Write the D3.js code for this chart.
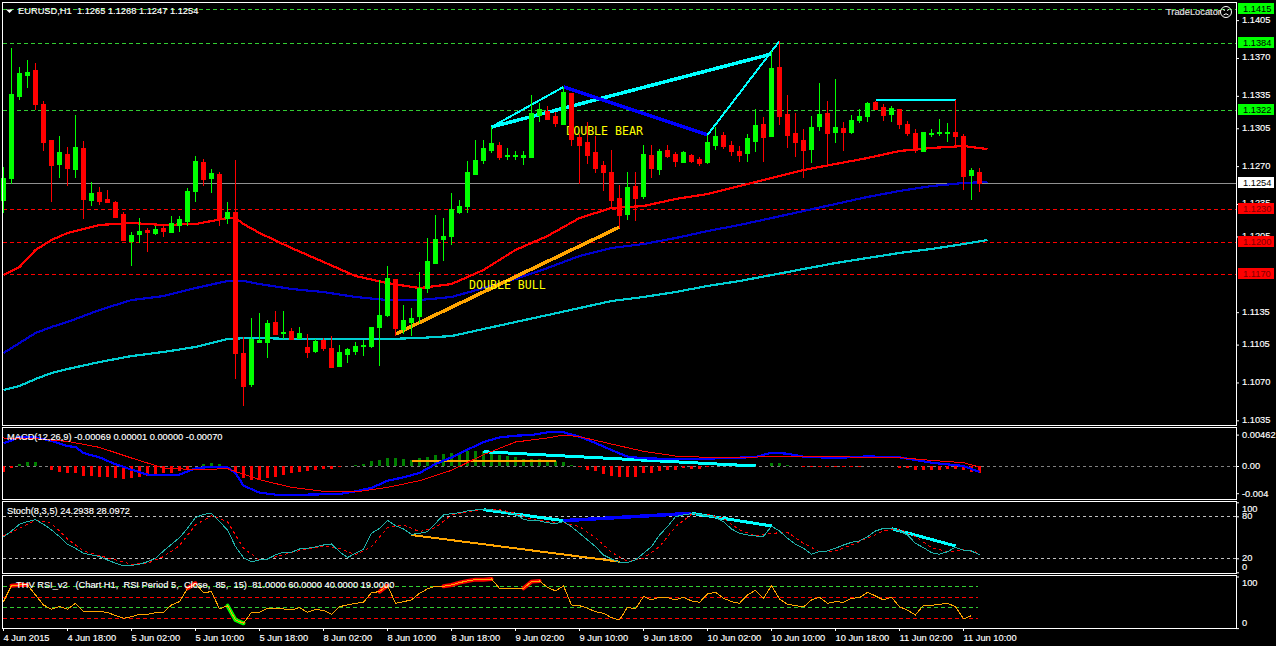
<!DOCTYPE html>
<html>
<head>
<meta charset="utf-8">
<style>
html, body { margin: 0; padding: 0; background: #000; overflow: hidden; }
text { font-family: "Liberation Sans", Arial, sans-serif; font-size: 9.3px; fill: #fff; white-space: pre; stroke: #fff; stroke-width: 0.15px; }
.axis path { display: none; }
.axis line { stroke: #fff; }
.axis text { font-size: 9.3px; fill: #fff; }
</style>
<script src="https://cdnjs.cloudflare.com/ajax/libs/d3/7.8.5/d3.min.js"></script>
</head>
<body>
<svg id="chart"></svg>
<script>
var width = 1276, height = 646;

// hourly candles, bar 0 = 4 Jun 2015 10:00
var opens = [1.1239,1.1259,1.1335,1.1354,1.1359,1.1327,1.1294,1.1272,1.1281,1.1267,
1.1287,1.1239,1.1246,1.1240,1.1237,1.1226,1.1201,1.1207,1.1211,1.1208,
1.1213,1.1209,1.1216,1.1219,1.1247,1.1274,1.1259,1.1263,1.1222,1.1228,
1.1097,1.1069,1.1107,1.1107,1.1126,1.1116,1.1118,1.1111,1.1103,1.1099,
1.1109,1.1102,1.1085,1.1096,1.1099,1.1104,1.1104,1.1121,1.1132,1.1166,
1.1119,1.1126,1.1131,1.1157,1.1180,1.1203,1.1205,1.1228,1.1233,1.1263,
1.1276,1.1285,1.1290,1.1279,1.1279,1.1278,1.1278,1.1317,1.1321,1.1316,
1.1309,1.1338,1.1297,1.1292,1.1283,1.1271,1.1265,1.1241,1.1226,1.1252,
1.1242,1.1280,1.1267,1.1285,1.1281,1.1274,1.1280,1.1277,1.1274,1.1290,
1.1299,1.1290,1.1284,1.1282,1.1293,1.1309,1.1298,1.1362,1.1318,1.1301,
1.1294,1.1286,1.1307,1.1319,1.1302,1.1305,1.1302,1.1313,1.1316,1.1329,
1.1325,1.1318,1.1323,1.1309,1.1301,1.1284,1.1300,1.1301,1.1301,1.1302,
1.1298,1.1262,1.1265];
var highs = [1.1269,1.1379,1.1362,1.1368,1.1365,1.1330,1.1294,1.1298,1.1288,1.1317,
1.1293,1.1255,1.1251,1.1248,1.1238,1.1228,1.1209,1.1222,1.1213,1.1215,
1.1216,1.1224,1.1224,1.1250,1.1279,1.1277,1.1267,1.1265,1.1237,1.1276,
1.1112,1.1130,1.1134,1.1128,1.1136,1.1136,1.1120,1.1121,1.1115,1.1110,
1.1111,1.1113,1.1105,1.1102,1.1107,1.1109,1.1121,1.1165,1.1178,1.1166,
1.1142,1.1139,1.1172,1.1204,1.1225,1.1222,1.1245,1.1239,1.1275,1.1294,
1.1294,1.1306,1.1292,1.1287,1.1284,1.1284,1.1336,1.1328,1.1326,1.1320,
1.1343,1.1338,1.1300,1.1311,1.1298,1.1275,1.1285,1.1253,1.1265,1.1265,
1.1290,1.1290,1.1286,1.1290,1.1283,1.1284,1.1281,1.1278,1.1299,1.1306,
1.1302,1.1293,1.1289,1.1300,1.1323,1.1315,1.1376,1.1386,1.1336,1.1319,
1.1304,1.1316,1.1347,1.1330,1.1351,1.1311,1.1317,1.1323,1.1329,1.1330,
1.1327,1.1326,1.1323,1.1312,1.1304,1.1302,1.1304,1.1314,1.1310,1.1331,
1.1300,1.1268,1.1268];
var lows = [1.1228,1.1254,1.1332,1.1343,1.1323,1.1285,1.1238,1.1260,1.1253,1.1260,
1.1222,1.1234,1.1235,1.1237,1.1223,1.1202,1.1179,1.1200,1.1192,1.1207,
1.1205,1.1209,1.1210,1.1216,1.1238,1.1253,1.1246,1.1216,1.1217,1.1074,
1.1049,1.1067,1.1107,1.1094,1.1115,1.1111,1.1110,1.1111,1.1094,1.1098,
1.1100,1.1084,1.1085,1.1089,1.1096,1.1095,1.1103,1.1086,1.1131,1.1114,
1.1116,1.1114,1.1126,1.1154,1.1180,1.1183,1.1198,1.1227,1.1228,1.1263,
1.1273,1.1283,1.1277,1.1277,1.1277,1.1272,1.1278,1.1312,1.1314,1.1307,
1.1309,1.1290,1.1254,1.1273,1.1265,1.1248,1.1233,1.1214,1.1221,1.1220,
1.1241,1.1260,1.1263,1.1278,1.1270,1.1274,1.1274,1.1271,1.1273,1.1286,
1.1287,1.1280,1.1275,1.1275,1.1284,1.1275,1.1298,1.1309,1.1288,1.1279,
1.1260,1.1274,1.1303,1.1271,1.1292,1.1285,1.1301,1.1311,1.1312,1.1323,
1.1313,1.1312,1.1305,1.1299,1.1283,1.1284,1.1298,1.1299,1.1293,1.1290,
1.1249,1.1240,1.1247];
var closes = [1.1259,1.1337,1.1356,1.1357,1.1327,1.1292,1.1271,1.1283,1.1268,1.1288,
1.1240,1.1245,1.1238,1.1237,1.1223,1.1202,1.1206,1.1210,1.1209,1.1212,
1.1210,1.1217,1.1221,1.1247,1.1275,1.1258,1.1264,1.1222,1.1228,1.1097,
1.1067,1.1110,1.1109,1.1125,1.1115,1.1117,1.1110,1.1116,1.1098,1.1108,
1.1102,1.1084,1.1098,1.1101,1.1104,1.1105,1.1121,1.1132,1.1167,1.1120,
1.1128,1.1130,1.1157,1.1182,1.1203,1.1205,1.1230,1.1233,1.1265,1.1276,
1.1287,1.1291,1.1278,1.1280,1.1280,1.1280,1.1319,1.1323,1.1314,1.1310,
1.1339,1.1295,1.1290,1.1280,1.1268,1.1265,1.1239,1.1225,1.1251,1.1241,
1.1281,1.1268,1.1284,1.1279,1.1275,1.1283,1.1275,1.1273,1.1292,1.1298,
1.1289,1.1284,1.1280,1.1296,1.1308,1.1297,1.1361,1.1316,1.1299,1.1292,
1.1285,1.1306,1.1318,1.1301,1.1306,1.1302,1.1313,1.1316,1.1328,1.1323,
1.1317,1.1324,1.1309,1.1301,1.1285,1.1302,1.1301,1.1302,1.1302,1.1298,
1.1261,1.1266,1.1254];

// moving averages, read at these bars
var maBars = [0,2,4,6,8,12,16,20,24,28,29,30,32,36,40,44,48,52,56,60,64,68,72,76,80,84,88,92,96,100,104,108,112,116,120,123];
var maRed = [1.11693,1.11767,1.11925,1.12017,1.12082,1.12156,1.12174,1.12156,1.12165,1.12220,1.12220,1.12165,1.12082,1.11943,1.11814,1.11684,1.11619,1.11573,1.11610,1.11740,1.11925,1.12054,1.12220,1.12313,1.12331,1.12396,1.12442,1.12516,1.12590,1.12664,1.12720,1.12775,1.12840,1.12868,1.12886,1.12858];
var maBlue = [1.10972,1.11065,1.11157,1.11213,1.11259,1.11370,1.11462,1.11499,1.11573,1.11638,1.11638,1.11638,1.11610,1.11564,1.11536,1.11490,1.11462,1.11462,1.11490,1.11573,1.11656,1.11758,1.11869,1.11943,1.11980,1.12035,1.12100,1.12156,1.12220,1.12285,1.12350,1.12415,1.12470,1.12516,1.12544,1.12553];
var maTeal = [1.10630,1.10667,1.10732,1.10787,1.10824,1.10889,1.10944,1.10982,1.11028,1.11102,1.11102,1.11111,1.11111,1.11102,1.11102,1.11102,1.11102,1.11111,1.11129,1.11194,1.11259,1.11323,1.11388,1.11453,1.11490,1.11536,1.11592,1.11638,1.11693,1.11749,1.11804,1.11851,1.11897,1.11934,1.11980,1.12017];

var levelsUp = [1.1415,1.1384,1.1322];
var levelsDown = [1.1230,1.1200,1.1170];
var lastPrice = 1.1254;
var priceTicks = [1.1405,1.1370,1.1335,1.1305,1.1270,1.1235,1.1205,1.1135,1.1105,1.1070,1.1035];

// hand drawn trend lines as [bar, value]
var lineThinUp = [[61,1.13062],[70,1.13432]];
var lineThickUp = [[61,1.13062],[96,1.13737]];
var lineBlueDown = [[70,1.13432],[88,1.12988]];
var lineThinUp2 = [[88,1.12988],[97,1.13857]];
var lineFlat = [[109,1.13311],[119,1.13311]];
var lineOrangeUp = [[49,1.11148],[77,1.12137]];
var bearText = [70.4,1.12985];
var bullText = [58.25,1.11564];

// MACD
var macdHist = [-.00088,-.00034,.00029,.00059,.00059,.00004,-.00054,-.00088,-.00098,-.00098,
-.00143,-.00143,-.00157,-.00157,-.00176,-.00187,-.00176,-.00166,-.00151,-.00128,
-.00107,-.00098,-.00078,-.00044,-.00004,.00029,.00044,.00029,.00004,-.00113,
-.00176,-.00201,-.00201,-.00176,-.00162,-.00128,-.00103,-.00084,-.00069,-.00059,
-.0004,-.0004,-.00019,0,.00015,.00029,.00069,.00088,.00122,.00118,
.00107,.00093,.00118,.00132,.00162,.00176,.00191,.00196,.00216,.00225,
.00216,.00191,.00166,.00143,.00128,.00107,.00107,.00103,.00084,.00069,
.00063,.00015,-.00015,-.00054,-.00078,-.00118,-.00143,-.00166,-.00162,-.00157,
-.00107,-.00098,-.00069,-.00054,-.00054,-.00034,-.0004,-.0004,-.00019,-.00004,
-.00004,-.00004,-.00015,0,0,.00004,.00049,.00049,.00019,.00004,
-.0001,-.00019,-.00015,-.00019,-.00019,-.00019,-.00015,-.00019,0,0,
0,0,-.00025,-.00034,-.00054,-.00054,-.00054,-.00054,-.0004,-.0004,
-.00063,-.00084,-.00098];
var macdBars = [0,1,2,4,6,8,9,10,12,14,16,18,22,24,26,28,29,30,32,34,38,42,44,46,48,50,52,54,56,58,60,62,64,66,68,70,72,74,76,78,80,84,88,92,94,96,98,100,104,108,112,116,120,122];
var macdLine = [.00338,.00377,.00431,.00421,.00372,.00294,.00279,.00191,.00127,.00025,-.00054,-.00127,-.00127,-.00034,-.0001,-.0002,-.00103,-.00289,-.00392,-.00421,-.00421,-.00412,-.00372,-.00323,-.00216,-.00167,-.00103,.00029,.00127,.0024,.00353,.00421,.00446,.00456,.00495,.00495,.00431,.00338,.00235,.00137,.00113,.00103,.00108,.00123,.00132,.00196,.00181,.00137,.00118,.00142,.00127,.00049,0,-.00088];
var signalBars = [0,4,8,12,16,20,24,28,32,36,40,44,48,52,56,60,64,68,70,72,76,80,84,88,92,96,100,104,108,112,116,120,122];
var signalLine = [.00412,.00402,.00363,.00274,.00118,-.00029,-.00054,-.00039,-.00201,-.00314,-.00372,-.00382,-.00314,-.00216,-.00064,.00167,.00353,.00412,.00456,.00431,.00323,.00216,.00147,.00127,.00127,.00137,.00142,.00137,.00127,.00123,.00083,.00049,-.00015];
var macdOrange = [[51,.00078],[69,.00078]];
var macdCyan = [[60,.0021],[94,0]];
var macdTicks = [0.00462,0,-0.004];

// stochastic
var stochMain = [50.5,59,68.6,72.4,75.2,68.6,60.5,50.9,40,34.3,27.1,24.8,22.4,17.6,12.9,9.5,10,11.4,15.2,20,30.5,40,49.5,62.8,78.1,82.8,84.3,72.4,60.5,36.7,21,15.2,17.6,19,24.8,28.6,28.6,33.3,34.3,36.2,39,40.5,29.5,21,27.1,32.8,55.7,62.8,74.3,66.6,61.9,54.3,55.7,
58.1,70,81.9,83.8,85.2,87.6,89,90,89,87.6,85.7,82.8,75.7,73.3,73.3,70.9,69.5,72.4,65.2,55.7,46.2,36.7,24.8,19,14.3,13.8,17.6,27.1,36.7,53.3,65.2,79.5,81.9,83.8,82.8,80.9,78.5,72.4,61.9,55.7,53.3,51.9,51.4,65.7,59,48.6,40,34.3,25.7,29.5,30.5,34.3,39,
42.8,44.8,50.9,59,62.8,62.8,59,53.3,41.4,35.2,28.1,25.7,29.5,35.7,31.4,30.5,24.8];
// read at every second bar
var stochSignal = [52.4,62.8,74.7,70,47.6,30.5,23.8,17.6,11.4,12.9,22.4,38.1,67.6,80.9,72.4,34.3,17.6,21.9,28.6,33.3,37.1,34.3,24.8,36.7,63.8,67.6,58.1,
63.8,81.9,86.6,89.5,89.5,84.3,75.7,72.4,70.9,65.2,49.5,28.6,15.2,20,36.7,65.2,82.8,82.8,77.1,60.5,52.4,55.7,57.1,41.4,29.5,30.5,
39,48.6,59,61.9,50.9,35.2,29.5,31.9,28.1];
var stochLevels = [80,20];
var stochOrange = [[51,53.3],[77,15.2]];
var stochCyan1 = [[60,89.5],[70,73.8]];
var stochBlue = [[70,73.8],[86,84.3]];
var stochCyan2 = [[86,84.3],[96,66.2]];
var stochCyan3 = [[111,62.4],[119,37.6]];

// RSI
var rsi = [51.3,82.3,83.6,83.6,64.2,44.8,36.4,42.2,36.4,48.1,31.9,31.9,31.9,30.6,24.2,19,22.2,26.7,26.7,30,30.6,44.8,51.3,77.1,86.8,68.7,70.7,37.1,43.5,15.8,9.3,30.6,30.6,38.4,37.1,37.1,35.1,39.7,30.6,35.8,34.5,26.7,41.6,44.8,48.1,50,68.7,70.7,82.3,48.1,51.3,54.5,67.4,
75.9,81,81,83.6,88.1,91.3,93.9,93.9,95.2,77.1,77.1,77.1,77.1,90.1,91.3,79.1,72,81.7,44.8,43.5,38.4,31.9,28.7,20.3,15.8,40.3,37.1,61.6,54.5,59.7,59,54.5,59.7,52.6,50,66.1,69.4,57.8,51.3,48.1,64.2,73.3,57.8,82.3,56.5,46.1,43.5,41,54.5,59.7,48.1,51.3,50,
57.8,59,69.4,62.3,54.5,59.7,41.6,34.5,25.5,44.2,44.2,46.1,48.1,41.6,17.8,24.3];
var rsiHot = [[1,3],[23,24],[47,48],[55,61],[65,67]];
var rsiCold = [[28,30]];
var rsiLevelsGreen = [81,40];
var rsiLevelsRed = [60,19];

var tickBars = [0,8,16,24,32,40,48,56,64,72,80,88,96,104,112,120];
var tickLabels = ["4 Jun 2015","4 Jun 18:00","5 Jun 02:00","5 Jun 10:00","5 Jun 18:00","8 Jun 02:00","8 Jun 10:00","8 Jun 18:00","9 Jun 02:00","9 Jun 10:00","9 Jun 18:00","10 Jun 02:00","10 Jun 10:00","10 Jun 18:00","11 Jun 02:00","11 Jun 10:00"];

var svg = d3.select("#chart")
	.attr("width", width)
	.attr("height", height)
	.style("display", "block")
	.style("background", "#000");

var xs = d3.scaleLinear().domain([0, 122]).range([3, 979]);
var yMain = d3.scaleLinear().domain([1.1415, 1.1170]).range([9.3, 274.3]);
var yMacd = d3.scaleLinear().domain([0.00462, -0.004]).range([434.6, 493.2]);
var yStoch = d3.scaleLinear().domain([100, 0]).range([502.3, 572.3]);
var yRsi = d3.scaleLinear().domain([100, 0]).range([576.5, 628.1]);

var RIGHT = 1236;
var green = "#00ff00", red = "#ff0000", cyan = "#00ffff", orange = "#ffa500";

function crisp(v) { return Math.round(v) + 0.5; }

function drawLine(pts, y, color, w) {
	var line = d3.line().x(function(d) { return xs(d[0]) + 0.5; }).y(function(d) { return y(d[1]); });
	return svg.append("path")
		.attr("d", line(pts))
		.attr("fill", "none")
		.attr("stroke", color)
		.attr("stroke-width", w)
		.attr("shape-rendering", "crispEdges");
}

function drawLevel(v, y, color, dash, x2) {
	svg.append("line")
		.attr("x1", 3).attr("x2", x2 || RIGHT)
		.attr("y1", crisp(y(v))).attr("y2", crisp(y(v)))
		.attr("stroke", color)
		.attr("stroke-dasharray", dash)
		.attr("shape-rendering", "crispEdges");
}

// price levels
levelsUp.forEach(function(v) { drawLevel(v, yMain, "#32cd32", "4,3"); });
levelsDown.forEach(function(v) { drawLevel(v, yMain, red, "4,3"); });
drawLevel(lastPrice, yMain, "#909090", null);

// moving averages
function zip(a, b) { return a.map(function(d, i) { return [d, b[i]]; }); }
drawLine(zip(maBars, maTeal), yMain, "#00ced1", 2.2);
drawLine(zip(maBars, maBlue), yMain, "#0000cd", 2.2);
drawLine(zip(maBars, maRed), yMain, red, 2.2);

// trend lines
drawLine(lineThinUp, yMain, cyan, 2);
drawLine(lineThickUp, yMain, cyan, 3.5);
drawLine(lineBlueDown, yMain, "#0000ff", 3.5);
drawLine(lineThinUp2, yMain, cyan, 2);
drawLine(lineFlat, yMain, cyan, 2);
drawLine(lineOrangeUp, yMain, orange, 3.5);

function noteText(label, pos) {
	svg.append("text").text(label)
		.attr("x", xs(pos[0])).attr("y", yMain(pos[1]))
		.style("font-family", "'DejaVu Sans Mono'").style("font-size", "11.6px")
		.style("fill", "#ffff00").style("stroke", "none");
}
noteText("DOUBLE BEAR", bearText);
noteText("DOUBLE BULL", bullText);

// candles, on top of everything in the main window
var candle = svg.append("g").attr("shape-rendering", "crispEdges")
	.selectAll("g").data(opens).enter().append("g")
	.attr("fill", function(d, i) { return closes[i] >= d ? green : red; });
candle.append("rect")
	.attr("x", function(d, i) { return xs(i); })
	.attr("y", function(d, i) { return Math.round(yMain(highs[i])); })
	.attr("width", 1)
	.attr("height", function(d, i) { return Math.round(yMain(lows[i])) - Math.round(yMain(highs[i])) + 1; });
candle.append("rect")
	.attr("x", function(d, i) { return xs(i) - 2; })
	.attr("y", function(d, i) { return Math.round(yMain(Math.max(d, closes[i]))); })
	.attr("width", 5)
	.attr("height", function(d, i) { return Math.round(yMain(Math.min(d, closes[i]))) - Math.round(yMain(Math.max(d, closes[i]))) + 1; });

// MACD window
drawLevel(0, yMacd, "#808080", "3,3");
svg.append("g").attr("shape-rendering", "crispEdges")
	.selectAll("rect").data(macdHist).enter().append("rect")
	.attr("x", function(d, i) { return xs(i) - 1; })
	.attr("y", function(d) { return d > 0 ? yMacd(d) : yMacd(0); })
	.attr("width", 3)
	.attr("height", function(d) { return Math.abs(yMacd(d) - yMacd(0)); })
	.attr("fill", function(d) { return d > 0 ? "#008000" : red; });
drawLine(macdOrange, yMacd, orange, 2);
drawLine(macdCyan, yMacd, cyan, 3);
drawLine(zip(macdBars, macdLine), yMacd, "#0000ff", 2.2);
drawLine(zip(signalBars, signalLine), yMacd, red, 1);

// stochastic window
stochLevels.forEach(function(v) { drawLevel(v, yStoch, "#c0c0c0", "3,3"); });
drawLine(stochOrange, yStoch, orange, 2);
drawLine(stochCyan1, yStoch, cyan, 3);
drawLine(stochBlue, yStoch, "#0000ff", 3.5);
drawLine(stochCyan2, yStoch, cyan, 3);
drawLine(stochCyan3, yStoch, cyan, 3);
drawLine(zip(d3.range(0, 123, 2), stochSignal), yStoch, red, 1).attr("stroke-dasharray", "3,3");
drawLine(stochMain.map(function(d, i) { return [i, d]; }), yStoch, "#20b2aa", 1);

// RSI window
rsiLevelsGreen.forEach(function(v) { drawLevel(v, yRsi, "#32cd32", "4,3", 978); });
rsiLevelsRed.forEach(function(v) { drawLevel(v, yRsi, red, "4,3", 978); });
var rsiPts = rsi.map(function(d, i) { return [i, d]; });
rsiHot.forEach(function(r) {
	drawLine(rsiPts.slice(r[0], r[1] + 1), yRsi, red, 4).attr("stroke-linecap", "round").attr("shape-rendering", null);
});
rsiCold.forEach(function(r) {
	drawLine(rsiPts.slice(r[0], r[1] + 1), yRsi, green, 4).attr("stroke-linecap", "round").attr("shape-rendering", null);
});
drawLine(rsiPts, yRsi, orange, 1);

// window frames
[[2, 425], [427, 499], [501, 573], [575, 628]].forEach(function(f) {
	svg.append("rect")
		.attr("x", 2.5).attr("y", f[0] + 0.5)
		.attr("width", RIGHT - 2).attr("height", f[1] - f[0])
		.attr("fill", "none").attr("stroke", "#fff")
		.attr("shape-rendering", "crispEdges");
});

// axes
svg.append("g").attr("class", "axis")
	.attr("transform", "translate(0,628)")
	.call(d3.axisBottom(xs).tickValues(tickBars).tickSize(3).tickPadding(3)
		.tickFormat(function(d, i) { return tickLabels[i]; }))
	.selectAll("text").attr("text-anchor", "start");

function rightAxis(scale, ticks, fmt) {
	return svg.append("g").attr("class", "axis")
		.attr("transform", "translate(" + RIGHT + ",0)")
		.call(d3.axisRight(scale).tickValues(ticks).tickSize(3).tickPadding(3).tickFormat(fmt));
}
rightAxis(yMain, priceTicks, d3.format(".4f")).selectAll("text").attr("y", -1);
rightAxis(yMacd, macdTicks, function(d) { return d === 0 ? "0.00" : (d > 0 ? "0.00462" : "-0.004"); });
// end labels of these two windows sit inside the frame
rightAxis(yStoch, [100, 80, 20, 0], d3.format("d")).selectAll("text")
	.attr("y", function(d) { return d === 100 ? 6 : (d === 0 ? -5.5 : -1); });
rightAxis(yRsi, [100, 0], d3.format("d")).selectAll("text")
	.attr("y", function(d) { return d === 100 ? 6 : -5.5; });

// price tags
function tag(v, color, textColor) {
	svg.append("rect")
		.attr("x", 1238).attr("y", Math.round(yMain(v)) - 6)
		.attr("width", 36).attr("height", 11)
		.attr("fill", color).attr("shape-rendering", "crispEdges");
	svg.append("text").text(d3.format(".4f")(v))
		.attr("x", 1243).attr("y", Math.round(yMain(v)) + 3)
		.style("fill", textColor).style("stroke", "none");
}
levelsUp.forEach(function(v) { tag(v, green, "#000"); });
levelsDown.forEach(function(v) { tag(v, red, "#800000"); });
tag(lastPrice, "#fff", "#000");

// window captions
svg.append("path").attr("d", "M6,9.5 L13,9.5 L9.5,13 Z").attr("fill", "#fff");
svg.append("text").text("EURUSD,H1  1.1265 1.1268 1.1247 1.1254").attr("x", 18).attr("y", 14);
svg.append("text").text("MACD(12,26,9) -0.00069 0.00001 0.00000 -0.00070").attr("x", 7).attr("y", 440);
svg.append("text").text("Stoch(8,3,5) 24.2938 28.0972").attr("x", 7).attr("y", 514);
svg.append("text").text("THV RSI_v2   (Chart H1,  RSI Period 5,  Close,  85,  15)  81.0000 60.0000 40.0000 19.0000").attr("x", 16).attr("y", 588);

svg.append("text").text("TradeLocator").attr("x", 1166).attr("y", 15).style("fill", "#dddddd");
var face = svg.append("g").attr("transform", "translate(1226,12)").attr("fill", "none").attr("stroke", "#fff");
face.append("circle").attr("r", 5.5);
face.append("path").attr("d", "M-3,-2.5 L-1,-1.5 M3,-2.5 L1,-1.5 M-2.5,3 Q0,0.5 2.5,3");
</script>
</body>
</html>
